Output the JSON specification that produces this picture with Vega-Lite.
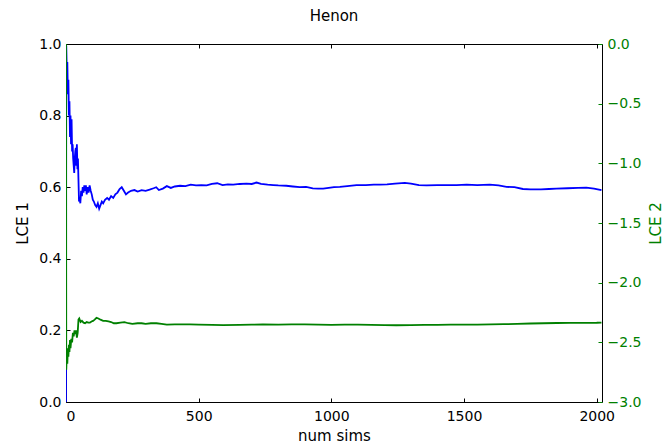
{
  "$schema": "https://vega.github.io/schema/vega-lite/v6.json",
  "width": 536,
  "height": 358,
  "autosize": {"type": "none"},
  "padding": {"left": 66, "top": 44, "right": 63, "bottom": 45},
  "background": "white",
  "config": {
    "font": "DejaVu Sans",
    "view": {"stroke": "black", "strokeWidth": 1},
    "axis": {
      "grid": false,
      "zindex": 1,
      "domain": false,
      "offset": -4,
      "labelFont": "DejaVu Sans",
      "titleFont": "DejaVu Sans",
      "labelFontSize": 14,
      "titleFontSize": 15,
      "titleFontWeight": "normal",
      "labelColor": "black",
      "titleColor": "black",
      "tickColor": "black",
      "tickSize": 4,
      "tickWidth": 1,
      "labelPadding": 5
    }
  },
  "title": {"text": "Henon", "fontSize": 15, "fontWeight": "normal", "font": "DejaVu Sans", "color": "black", "offset": 13, "anchor": "middle", "frame": "group"},
  "datasets": {
    "lce1": [
      {"sim": 0, "lce": 0.0},
      {"sim": 1, "lce": 0.995},
      {"sim": 3, "lce": 0.92},
      {"sim": 5, "lce": 0.95},
      {"sim": 7, "lce": 0.86},
      {"sim": 9, "lce": 0.9},
      {"sim": 11, "lce": 0.8},
      {"sim": 13, "lce": 0.84},
      {"sim": 15, "lce": 0.74},
      {"sim": 17, "lce": 0.8},
      {"sim": 19, "lce": 0.72},
      {"sim": 21, "lce": 0.79},
      {"sim": 23, "lce": 0.7},
      {"sim": 25, "lce": 0.72},
      {"sim": 27, "lce": 0.68},
      {"sim": 29, "lce": 0.66},
      {"sim": 31, "lce": 0.64},
      {"sim": 33, "lce": 0.68},
      {"sim": 35, "lce": 0.7},
      {"sim": 37, "lce": 0.71},
      {"sim": 39, "lce": 0.66},
      {"sim": 41, "lce": 0.72},
      {"sim": 43, "lce": 0.65},
      {"sim": 45, "lce": 0.68},
      {"sim": 47, "lce": 0.62},
      {"sim": 49, "lce": 0.56},
      {"sim": 51, "lce": 0.57},
      {"sim": 54, "lce": 0.555},
      {"sim": 57, "lce": 0.59},
      {"sim": 60, "lce": 0.575},
      {"sim": 63, "lce": 0.6},
      {"sim": 66, "lce": 0.585},
      {"sim": 69, "lce": 0.605},
      {"sim": 72, "lce": 0.59},
      {"sim": 75, "lce": 0.605},
      {"sim": 78, "lce": 0.58},
      {"sim": 81, "lce": 0.6},
      {"sim": 85, "lce": 0.585},
      {"sim": 89, "lce": 0.605},
      {"sim": 93, "lce": 0.59},
      {"sim": 97, "lce": 0.58},
      {"sim": 101, "lce": 0.565},
      {"sim": 105, "lce": 0.56},
      {"sim": 110, "lce": 0.55},
      {"sim": 115, "lce": 0.545},
      {"sim": 120, "lce": 0.555},
      {"sim": 125, "lce": 0.54},
      {"sim": 130, "lce": 0.55},
      {"sim": 135, "lce": 0.56},
      {"sim": 140, "lce": 0.555},
      {"sim": 147, "lce": 0.565},
      {"sim": 155, "lce": 0.57},
      {"sim": 162, "lce": 0.565},
      {"sim": 170, "lce": 0.575},
      {"sim": 178, "lce": 0.57},
      {"sim": 186, "lce": 0.58},
      {"sim": 194, "lce": 0.585},
      {"sim": 202, "lce": 0.595},
      {"sim": 210, "lce": 0.6},
      {"sim": 218, "lce": 0.59},
      {"sim": 226, "lce": 0.58},
      {"sim": 234, "lce": 0.585},
      {"sim": 245, "lce": 0.59},
      {"sim": 258, "lce": 0.592},
      {"sim": 270, "lce": 0.588},
      {"sim": 285, "lce": 0.592},
      {"sim": 300, "lce": 0.59},
      {"sim": 315, "lce": 0.593},
      {"sim": 330, "lce": 0.597},
      {"sim": 340, "lce": 0.6},
      {"sim": 350, "lce": 0.592},
      {"sim": 365, "lce": 0.596},
      {"sim": 380, "lce": 0.603},
      {"sim": 395, "lce": 0.598},
      {"sim": 410, "lce": 0.602},
      {"sim": 430, "lce": 0.604},
      {"sim": 450, "lce": 0.603},
      {"sim": 470, "lce": 0.607},
      {"sim": 490, "lce": 0.605},
      {"sim": 510, "lce": 0.606},
      {"sim": 530, "lce": 0.605},
      {"sim": 550, "lce": 0.609},
      {"sim": 570, "lce": 0.611},
      {"sim": 590, "lce": 0.606},
      {"sim": 610, "lce": 0.608},
      {"sim": 630, "lce": 0.607},
      {"sim": 655, "lce": 0.609},
      {"sim": 680, "lce": 0.61},
      {"sim": 700, "lce": 0.609},
      {"sim": 718, "lce": 0.613},
      {"sim": 735, "lce": 0.609},
      {"sim": 760, "lce": 0.607},
      {"sim": 781, "lce": 0.606},
      {"sim": 800, "lce": 0.605},
      {"sim": 830, "lce": 0.604},
      {"sim": 855, "lce": 0.602},
      {"sim": 881, "lce": 0.6},
      {"sim": 905, "lce": 0.601},
      {"sim": 930, "lce": 0.597},
      {"sim": 950, "lce": 0.596},
      {"sim": 969, "lce": 0.596},
      {"sim": 990, "lce": 0.598},
      {"sim": 1010, "lce": 0.6},
      {"sim": 1032, "lce": 0.601},
      {"sim": 1060, "lce": 0.603},
      {"sim": 1095, "lce": 0.606},
      {"sim": 1130, "lce": 0.606},
      {"sim": 1160, "lce": 0.607},
      {"sim": 1183, "lce": 0.607},
      {"sim": 1210, "lce": 0.608},
      {"sim": 1240, "lce": 0.61},
      {"sim": 1277, "lce": 0.612},
      {"sim": 1300, "lce": 0.61},
      {"sim": 1330, "lce": 0.606},
      {"sim": 1359, "lce": 0.605},
      {"sim": 1400, "lce": 0.606},
      {"sim": 1440, "lce": 0.606},
      {"sim": 1472, "lce": 0.606},
      {"sim": 1510, "lce": 0.607},
      {"sim": 1550, "lce": 0.606},
      {"sim": 1597, "lce": 0.607},
      {"sim": 1630, "lce": 0.605},
      {"sim": 1660, "lce": 0.601},
      {"sim": 1690, "lce": 0.6},
      {"sim": 1722, "lce": 0.595},
      {"sim": 1750, "lce": 0.594},
      {"sim": 1790, "lce": 0.594},
      {"sim": 1820, "lce": 0.595},
      {"sim": 1848, "lce": 0.596},
      {"sim": 1890, "lce": 0.597},
      {"sim": 1930, "lce": 0.598},
      {"sim": 1961, "lce": 0.599},
      {"sim": 1990, "lce": 0.596},
      {"sim": 2018, "lce": 0.592}
    ],
    "lce2": [
      {"sim": 0, "lce": 0.0},
      {"sim": 1, "lce": -2.73},
      {"sim": 3, "lce": -2.6},
      {"sim": 5, "lce": -2.68},
      {"sim": 7, "lce": -2.55},
      {"sim": 9, "lce": -2.62},
      {"sim": 11, "lce": -2.52},
      {"sim": 13, "lce": -2.58},
      {"sim": 15, "lce": -2.48},
      {"sim": 17, "lce": -2.55},
      {"sim": 20, "lce": -2.47},
      {"sim": 23, "lce": -2.5},
      {"sim": 26, "lce": -2.42},
      {"sim": 29, "lce": -2.45},
      {"sim": 32, "lce": -2.4},
      {"sim": 35, "lce": -2.43},
      {"sim": 38, "lce": -2.4},
      {"sim": 41, "lce": -2.46},
      {"sim": 44, "lce": -2.42},
      {"sim": 47, "lce": -2.31},
      {"sim": 50, "lce": -2.3},
      {"sim": 55, "lce": -2.33},
      {"sim": 60, "lce": -2.32},
      {"sim": 66, "lce": -2.335},
      {"sim": 72, "lce": -2.34},
      {"sim": 78, "lce": -2.33},
      {"sim": 84, "lce": -2.335},
      {"sim": 90, "lce": -2.335},
      {"sim": 96, "lce": -2.325},
      {"sim": 102, "lce": -2.32},
      {"sim": 108, "lce": -2.31},
      {"sim": 115, "lce": -2.295},
      {"sim": 122, "lce": -2.3},
      {"sim": 130, "lce": -2.31},
      {"sim": 140, "lce": -2.32},
      {"sim": 150, "lce": -2.32},
      {"sim": 160, "lce": -2.325},
      {"sim": 170, "lce": -2.33},
      {"sim": 180, "lce": -2.34},
      {"sim": 190, "lce": -2.34},
      {"sim": 205, "lce": -2.335},
      {"sim": 220, "lce": -2.33},
      {"sim": 235, "lce": -2.34},
      {"sim": 250, "lce": -2.345},
      {"sim": 270, "lce": -2.34},
      {"sim": 285, "lce": -2.34},
      {"sim": 300, "lce": -2.345},
      {"sim": 320, "lce": -2.34},
      {"sim": 341, "lce": -2.34},
      {"sim": 360, "lce": -2.345},
      {"sim": 380, "lce": -2.352},
      {"sim": 410, "lce": -2.35},
      {"sim": 440, "lce": -2.35},
      {"sim": 467, "lce": -2.35},
      {"sim": 500, "lce": -2.352},
      {"sim": 550, "lce": -2.354},
      {"sim": 592, "lce": -2.355},
      {"sim": 655, "lce": -2.353},
      {"sim": 700, "lce": -2.352},
      {"sim": 742, "lce": -2.35},
      {"sim": 800, "lce": -2.352},
      {"sim": 850, "lce": -2.35},
      {"sim": 900, "lce": -2.35},
      {"sim": 950, "lce": -2.352},
      {"sim": 1000, "lce": -2.353},
      {"sim": 1050, "lce": -2.352},
      {"sim": 1100, "lce": -2.352},
      {"sim": 1150, "lce": -2.354},
      {"sim": 1200, "lce": -2.356},
      {"sim": 1245, "lce": -2.357},
      {"sim": 1300, "lce": -2.356},
      {"sim": 1350, "lce": -2.354},
      {"sim": 1400, "lce": -2.353},
      {"sim": 1450, "lce": -2.352},
      {"sim": 1500, "lce": -2.352},
      {"sim": 1550, "lce": -2.352},
      {"sim": 1600, "lce": -2.35},
      {"sim": 1650, "lce": -2.348},
      {"sim": 1700, "lce": -2.345},
      {"sim": 1750, "lce": -2.342},
      {"sim": 1800, "lce": -2.34},
      {"sim": 1850, "lce": -2.338},
      {"sim": 1900, "lce": -2.337},
      {"sim": 1950, "lce": -2.337},
      {"sim": 2000, "lce": -2.336},
      {"sim": 2018, "lce": -2.334}
    ]
  },
  "layer": [
    {
      "data": {"name": "lce1"},
      "mark": {"type": "line", "color": "#0000ff", "strokeWidth": 1.8, "clip": true},
      "encoding": {
        "x": {
          "field": "sim", "type": "quantitative",
          "scale": {"domain": [0, 2020], "nice": false, "zero": false},
          "axis": {"orient": "bottom", "title": "num sims", "values": [0, 500, 1000, 1500, 2000], "format": "d", "labelPadding": 7, "titlePadding": 5}
        },
        "y": {
          "field": "lce", "type": "quantitative",
          "scale": {"domain": [0, 1], "nice": false},
          "axis": {"orient": "left", "title": "LCE 1", "values": [0, 0.2, 0.4, 0.6, 0.8, 1.0], "format": ".1f", "titlePadding": 8}
        }
      }
    },
    {
      "data": {"name": "lce2"},
      "mark": {"type": "line", "color": "#008000", "strokeWidth": 1.8, "clip": true},
      "encoding": {
        "x": {
          "field": "sim", "type": "quantitative",
          "scale": {"domain": [0, 2020], "nice": false, "zero": false},
          "axis": {"orient": "top", "title": null, "labels": false, "values": [0, 500, 1000, 1500, 2000]}
        },
        "y": {
          "field": "lce", "type": "quantitative",
          "scale": {"domain": [-3, 0], "nice": false},
          "axis": {"orient": "right", "title": "LCE 2", "titleAngle": 270, "titleBaseline": "top", "values": [-3, -2.5, -2, -1.5, -1, -0.5, 0], "format": ".1f", "labelColor": "#008000", "titleColor": "#008000", "tickColor": "#008000", "titlePadding": 8}
        }
      }
    }
  ],
  "resolve": {"scale": {"y": "independent"}, "axis": {"x": "independent", "y": "independent"}}
}
